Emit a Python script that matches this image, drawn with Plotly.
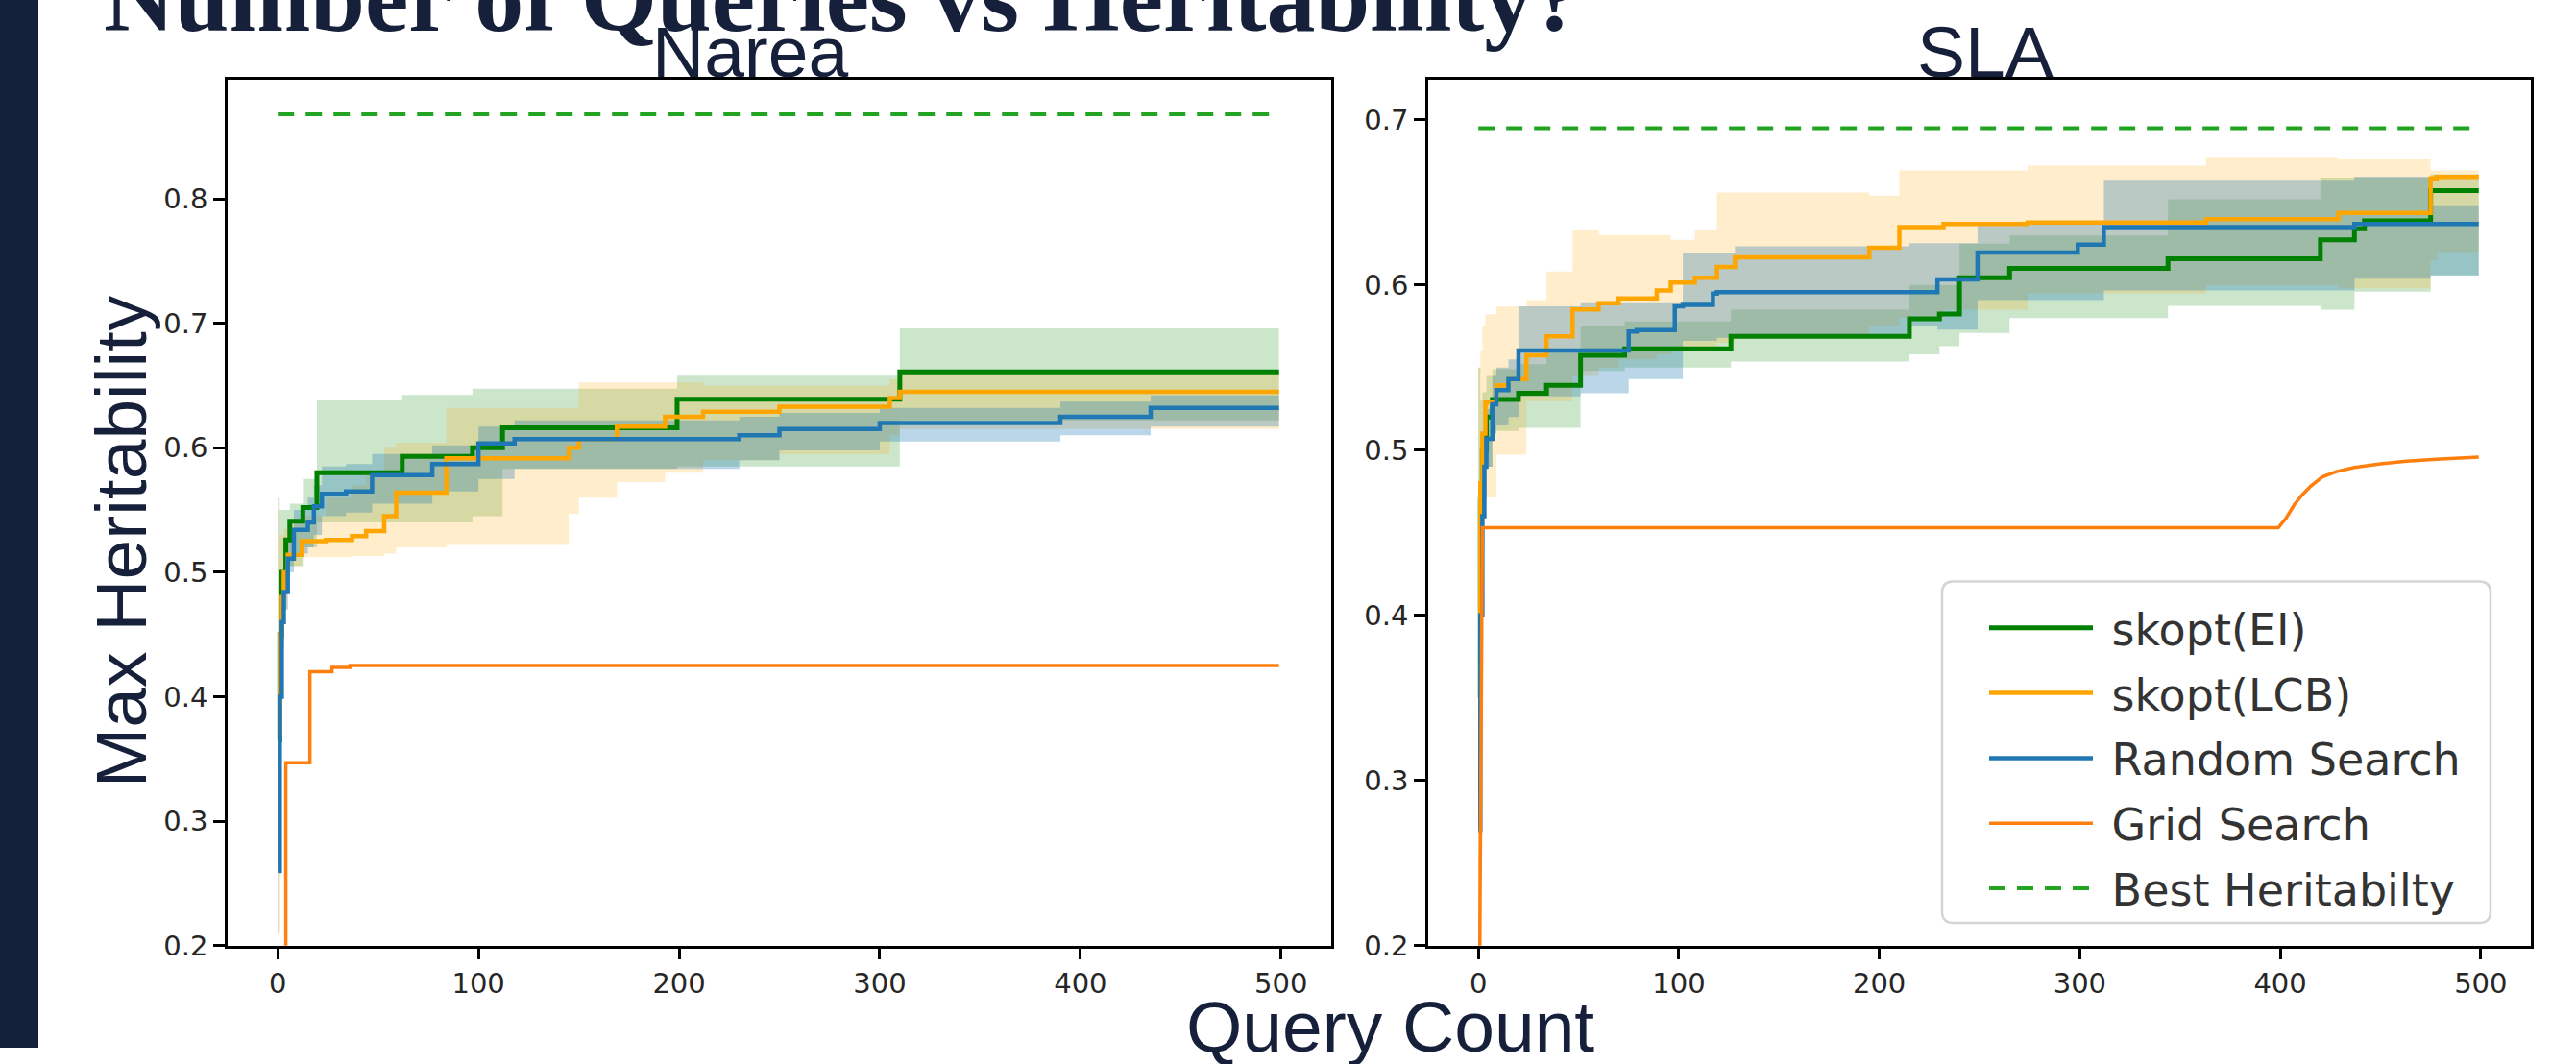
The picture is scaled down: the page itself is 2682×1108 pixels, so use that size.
import plotly.graph_objects as go

W, H = 2682, 1108

# ---------------- data ----------------
tick_x = [0, 100, 200, 300, 400, 500]
narea_ticks_y = [0.2, 0.3, 0.4, 0.5, 0.6, 0.7, 0.8]
sla_ticks_y = [0.2, 0.3, 0.4, 0.5, 0.6, 0.7]

# Narea panel
narea_ei_x = [0, 1, 2, 4, 6, 12.5, 19.5, 62, 97, 112, 199, 310, 499]
narea_ei_mean = [0.365, 0.45, 0.50, 0.526, 0.541, 0.552, 0.580, 0.593, 0.600, 0.616, 0.639, 0.661, 0.661]
narea_ei_lo = [0.21, 0.40, 0.47, 0.49, 0.505, 0.52, 0.54, 0.54, 0.545, 0.583, 0.585, 0.622, 0.622]
narea_ei_hi = [0.56, 0.55, 0.55, 0.55, 0.555, 0.575, 0.638, 0.6425, 0.6475, 0.6475, 0.658, 0.696, 0.696]

narea_lcb_x = [0, 1, 2, 3, 5, 12, 24, 37, 44, 53, 59, 84, 145, 150, 169, 193, 212, 250, 305, 310, 499]
narea_lcb_mean = [0.37, 0.45, 0.48, 0.50, 0.514, 0.525, 0.526, 0.529, 0.533, 0.545, 0.564, 0.5915, 0.600, 0.607,
                  0.617, 0.625, 0.629, 0.633, 0.640, 0.645, 0.645]
narea_lcb_lo = [0.21, 0.40, 0.44, 0.47, 0.505, 0.512, 0.512, 0.513, 0.513, 0.515, 0.52, 0.522, 0.547, 0.56,
                0.5725, 0.58, 0.59, 0.595, 0.61, 0.615, 0.615]
narea_lcb_hi = [0.55, 0.53, 0.53, 0.535, 0.54, 0.545, 0.56, 0.57, 0.58, 0.60, 0.604, 0.632, 0.632, 0.6525,
                0.6525, 0.6525, 0.65, 0.65, 0.655, 0.66, 0.66]

narea_rs_x = [0, 1, 2, 3, 5, 8, 15, 18, 22, 34, 47, 77, 100, 118, 230, 250, 300, 390, 435, 499]
narea_rs_mean = [0.26, 0.40, 0.46, 0.484, 0.511, 0.534, 0.540, 0.553, 0.563, 0.565, 0.578, 0.587, 0.6035, 0.607,
                 0.610, 0.615, 0.620, 0.625, 0.632, 0.632]
narea_rs_lo = [0.26, 0.38, 0.44, 0.47, 0.50, 0.515, 0.52, 0.53, 0.545, 0.548, 0.555, 0.565, 0.575, 0.583, 0.59,
               0.598, 0.605, 0.61, 0.617, 0.617]
narea_rs_hi = [0.26, 0.42, 0.48, 0.50, 0.525, 0.55, 0.56, 0.57, 0.585, 0.587, 0.595, 0.602, 0.617, 0.622, 0.625,
               0.628, 0.632, 0.637, 0.642, 0.642]

narea_gs_x = [0, 3, 4, 16, 27, 36, 499]
narea_gs_y = [0.10, 0.10, 0.347, 0.420, 0.4236, 0.425, 0.425]

narea_best_x = [0, 499]
narea_best_y = [0.868, 0.868]

# SLA panel
sla_ei_x = [0, 1, 2, 4, 7, 20, 34, 51, 73, 126, 215, 230, 240, 265, 344, 420, 437, 442, 475, 499]
sla_ei_mean = [0.35, 0.47, 0.50, 0.52, 0.5307, 0.5345, 0.5393, 0.5575, 0.5613, 0.5689, 0.5795, 0.5824, 0.6044,
               0.6101, 0.6159, 0.6274, 0.6341, 0.6389, 0.6571, 0.6571]
sla_ei_lo = [0.21, 0.43, 0.47, 0.49, 0.5116, 0.5135, 0.5135, 0.548, 0.550, 0.5536, 0.558, 0.563, 0.571, 0.580,
             0.5874, 0.585, 0.596, 0.596, 0.606, 0.606]
sla_ei_hi = [0.55, 0.53, 0.535, 0.545, 0.549, 0.552, 0.56, 0.575, 0.578, 0.585, 0.60, 0.60, 0.625, 0.63, 0.652,
             0.665, 0.665, 0.665, 0.667, 0.667]

sla_lcb_x = [0, 1, 2, 3.5, 9, 15, 24, 34, 47, 60, 70, 89, 96, 108, 119, 128, 195, 210, 232, 274, 363, 429, 475,
             478, 499]
sla_lcb_mean = [0.35, 0.48, 0.51, 0.5288, 0.5393, 0.5431, 0.5575, 0.5689, 0.5852, 0.589, 0.5919, 0.5967, 0.6015,
                0.6044, 0.611, 0.6168, 0.6225, 0.635, 0.6369, 0.6378, 0.6398, 0.6436, 0.6646, 0.6655, 0.6655]
sla_lcb_lo = [0.21, 0.43, 0.46, 0.4713, 0.4972, 0.4972, 0.5297, 0.5297, 0.545, 0.55, 0.555, 0.558, 0.56, 0.562,
              0.565, 0.57, 0.575, 0.58, 0.585, 0.595, 0.60, 0.598, 0.615, 0.62, 0.62]
sla_lcb_hi = [0.55, 0.56, 0.575, 0.5823, 0.5871, 0.5871, 0.5909, 0.6082, 0.6331, 0.6302, 0.6302, 0.6302, 0.6273,
              0.6331, 0.656, 0.656, 0.6541, 0.6694, 0.6694, 0.6723, 0.677, 0.6761, 0.6694, 0.6694, 0.6694]

sla_rs_x = [0, 1, 2, 3, 4, 7, 9, 15, 20, 51, 75, 79, 98, 102, 117, 119, 128, 215, 229, 249, 299, 312, 437, 475, 499]
sla_rs_mean = [0.27, 0.40, 0.46, 0.49, 0.5068, 0.5278, 0.5364, 0.5431, 0.5603, 0.5603, 0.5718, 0.5727, 0.5871,
               0.588, 0.5948, 0.5957, 0.5957, 0.5957, 0.6034, 0.6196, 0.6244, 0.635, 0.6369, 0.6369, 0.6369]
sla_rs_lo = [0.27, 0.38, 0.44, 0.47, 0.49, 0.51, 0.515, 0.52, 0.5326, 0.5345, 0.5431, 0.5431, 0.5431, 0.5661,
             0.5661, 0.568, 0.568, 0.575, 0.573, 0.5909, 0.5909, 0.5967, 0.6038, 0.6057, 0.6057]
sla_rs_hi = [0.27, 0.42, 0.48, 0.51, 0.525, 0.545, 0.55, 0.555, 0.5871, 0.589, 0.589, 0.589, 0.589, 0.6196,
             0.6196, 0.6196, 0.6235, 0.6254, 0.6254, 0.6378, 0.6378, 0.6637, 0.6656, 0.6483, 0.6483]

sla_gs_x = [0, 1, 2, 399, 403, 407, 411, 415, 421, 428, 437, 450, 463, 480, 499]
sla_gs_y = [0.05, 0.23, 0.453, 0.453, 0.459, 0.467, 0.473, 0.478, 0.4838, 0.487, 0.4895, 0.4917, 0.4933, 0.4946,
            0.4958]

sla_best_x = [0, 499]
sla_best_y = [0.695, 0.695]

series_names = ["skopt(EI)", "skopt(LCB)", "Random Search", "Grid Search", "Best Heritabilty"]
panel_titles = ["Narea", "SLA"]
slide_title = "Number of Queries vs Heritability?"
x_title = "Query Count"
y_title = "Max Heritability"

# ---------------- styles ----------------
C_EI = "#008000"
C_LCB = "#FFA500"
C_RS = "#1f77b4"
C_GS = "#ff7f0e"
C_BEST = "#22a322"
F_EI = "rgba(0,128,0,0.2)"
F_LCB = "rgba(255,165,0,0.2)"
F_RS = "rgba(31,119,180,0.3)"
NAVY = "#16203a"

fig = go.Figure()


def band(x, lo, hi, fc, xa, ya):
    fig.add_trace(go.Scatter(x=x, y=lo, mode="lines", line=dict(width=0, shape="hv"), showlegend=False,
                             hoverinfo="skip", xaxis=xa, yaxis=ya))
    fig.add_trace(go.Scatter(x=x, y=hi, mode="lines", line=dict(width=0, shape="hv"), fill="tonexty",
                             fillcolor=fc, showlegend=False, hoverinfo="skip", xaxis=xa, yaxis=ya))


def line(x, y, color, width, name, legend, xa, ya, shape="hv", dash=None):
    fig.add_trace(go.Scatter(x=x, y=y, mode="lines", name="\u00a0" + name, legendgroup=name, showlegend=legend,
                             line=dict(color=color, width=width, shape=shape, dash=dash),
                             xaxis=xa, yaxis=ya))


panels = [
    ("x", "y", False,
     (narea_ei_x, narea_ei_mean, narea_ei_lo, narea_ei_hi),
     (narea_lcb_x, narea_lcb_mean, narea_lcb_lo, narea_lcb_hi),
     (narea_rs_x, narea_rs_mean, narea_rs_lo, narea_rs_hi),
     (narea_gs_x, narea_gs_y, "hv"),
     (narea_best_x, narea_best_y)),
    ("x2", "y2", True,
     (sla_ei_x, sla_ei_mean, sla_ei_lo, sla_ei_hi),
     (sla_lcb_x, sla_lcb_mean, sla_lcb_lo, sla_lcb_hi),
     (sla_rs_x, sla_rs_mean, sla_rs_lo, sla_rs_hi),
     (sla_gs_x, sla_gs_y, "linear"),
     (sla_best_x, sla_best_y)),
]

for xa, ya, leg, ei, lcb, rs, gs, best in panels:
    band(ei[0], ei[2], ei[3], F_EI, xa, ya)
    band(lcb[0], lcb[2], lcb[3], F_LCB, xa, ya)
    band(rs[0], rs[2], rs[3], F_RS, xa, ya)
    line(ei[0], ei[1], C_EI, 5, series_names[0], leg, xa, ya)
    line(lcb[0], lcb[1], C_LCB, 4.5, series_names[1], leg, xa, ya)
    line(rs[0], rs[1], C_RS, 4.5, series_names[2], leg, xa, ya)
    line(gs[0], gs[1], C_GS, 3.5, series_names[3], leg, xa, ya, shape=gs[2])
    line(best[0], best[1], C_BEST, 4, series_names[4], leg, xa, ya, shape="linear", dash="17px,12px")

Y_T, Y_B = 84, 1000
tickfont = dict(family="DejaVu Sans", size=29, color="#262626")
ax = dict(showline=True, mirror=True, linecolor="black", linewidth=2.5, ticks="outside", ticklen=12,
          tickwidth=2.5, tickcolor="black", showgrid=False, zeroline=False, tickfont=tickfont)

fig.update_layout(
    width=W, height=H, margin=dict(l=0, r=0, t=0, b=0),
    paper_bgcolor="white", plot_bgcolor="white",
    xaxis=dict(domain=[237 / W, 1386 / W], range=[-25, 525], tickvals=tick_x, anchor="y", **ax),
    yaxis=dict(domain=[1 - Y_B / H, 1 - Y_T / H], range=[0.2, 0.896], tickvals=narea_ticks_y,
               tickformat=".1f", anchor="x", **ax),
    xaxis2=dict(domain=[1487 / W, 2635 / W], range=[-25, 525], tickvals=tick_x, anchor="y2", **ax),
    yaxis2=dict(domain=[1 - Y_B / H, 1 - Y_T / H], range=[0.2, 0.7245], tickvals=sla_ticks_y,
                tickformat=".1f", anchor="x2", **ax),
    legend=dict(x=2066 / W, y=1 - 627 / H, xanchor="left", yanchor="top", bgcolor="rgba(0,0,0,0)",
                borderwidth=0, font=dict(family="DejaVu Sans", size=46, color="#333333"),
                tracegroupgap=5, itemwidth=108),
    showlegend=True,
)

# dark slide strip on the left
fig.add_shape(type="rect", xref="paper", yref="paper", x0=0, x1=40 / W, y0=0, y1=1,
              fillcolor="#14213a", line=dict(width=0), layer="below")


# rounded legend frame (matplotlib style)
def rounded_rect(x0, y0, x1, y1, r):
    def P(x, y):
        return f"{x / W:.6f},{1 - y / H:.6f}"
    return (f"M {P(x0 + r, y0)} L {P(x1 - r, y0)} Q {P(x1, y0)} {P(x1, y0 + r)} "
            f"L {P(x1, y1 - r)} Q {P(x1, y1)} {P(x1 - r, y1)} L {P(x0 + r, y1)} "
            f"Q {P(x0, y1)} {P(x0, y1 - r)} L {P(x0, y0 + r)} Q {P(x0, y0)} {P(x0 + r, y0)} Z")


fig.add_shape(type="path", xref="paper", yref="paper", path=rounded_rect(2022, 615, 2593, 976, 12),
              fillcolor="rgba(255,255,255,0.9)", line=dict(color="#d4d4d4", width=2.5), layer="above")

ann = []
ann.append(dict(text="<b>" + slide_title + "</b>", x=106 / W, y=1 - 57 / H, xanchor="left", yanchor="bottom",
                font=dict(family="Liberation Serif", size=102, color=NAVY)))
ann.append(dict(text=panel_titles[0], x=781 / W, y=1 - 55 / H, xanchor="center", yanchor="middle",
                font=dict(family="Liberation Sans", size=75, color=NAVY)))
ann.append(dict(text=panel_titles[1], x=2067 / W, y=1 - 55 / H, xanchor="center", yanchor="middle",
                font=dict(family="Liberation Sans", size=75, color=NAVY)))
ann.append(dict(text=x_title, x=1447 / W, y=1 - 1086 / H, xanchor="center", yanchor="middle",
                font=dict(family="Liberation Sans", size=75, color=NAVY)))
ann.append(dict(text=y_title, x=126 / W, y=1 - 573 / H, xanchor="center", yanchor="middle", textangle=-90,
                font=dict(family="Liberation Sans", size=75, color=NAVY)))
for a in ann:
    a.update(xref="paper", yref="paper", showarrow=False)
fig.update_layout(annotations=ann)

fig.write_html("out.html")
